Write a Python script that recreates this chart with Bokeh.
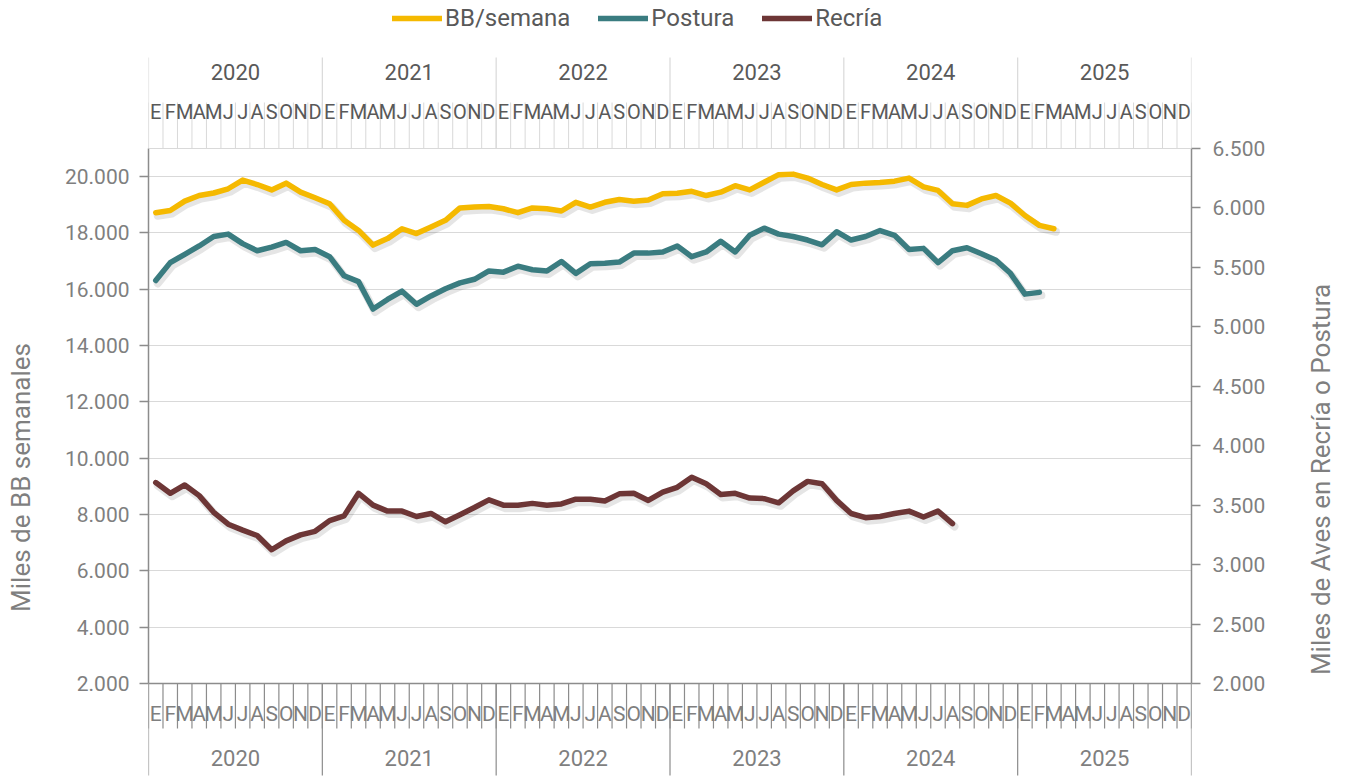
import numpy as np
from math import pi
from bokeh.plotting import figure
from bokeh.layouts import row
from bokeh.models import Range1d, LinearAxis, FixedTicker, Legend, LegendItem, Span
from bokeh.core.properties import value
from bokeh.embed import file_html
from bokeh.resources import INLINE

# ---------------- data ----------------
years = ["2020", "2021", "2022", "2023", "2024", "2025"]
months = ["E", "F", "M", "A", "M", "J", "J", "A", "S", "O", "N", "D"]

bb_semana = [18720, 18800, 19130, 19330, 19420, 19570, 19880, 19720, 19530, 19770, 19450, 19250,
             19040, 18450, 18090, 17570, 17800, 18150, 17980, 18210, 18450, 18890, 18920, 18940,
             18860, 18720, 18890, 18860, 18780, 19090, 18920, 19090, 19190, 19130, 19170, 19390,
             19410, 19480, 19330, 19450, 19680, 19530, 19800, 20070, 20090, 19950, 19720, 19530,
             19720, 19770, 19790, 19840, 19950, 19640, 19510, 19040, 18980, 19210, 19330, 19060,
             18620, 18270, 18150]

postura = [5390, 5540, 5610, 5680, 5760, 5780, 5700, 5640, 5670, 5710, 5640, 5650,
           5590, 5430, 5380, 5150, 5230, 5300, 5190, 5260, 5320, 5370, 5400, 5470,
           5460, 5510, 5480, 5470, 5550, 5450, 5530, 5535, 5545, 5620, 5620, 5630,
           5680, 5590, 5630, 5720, 5630, 5770, 5830, 5780, 5760, 5730, 5690, 5800,
           5730, 5760, 5810, 5770, 5650, 5660, 5540, 5640, 5665, 5615, 5560, 5450,
           5275, 5290]

recria = [3690, 3600, 3670, 3580, 3440, 3340, 3290, 3245, 3125, 3200, 3250, 3280,
          3370, 3410, 3600, 3500, 3450, 3450, 3405, 3430, 3360, 3420, 3480, 3545,
          3500, 3500, 3515, 3500, 3510, 3550, 3550, 3535, 3595, 3600, 3540, 3610,
          3650, 3735, 3680, 3590, 3600, 3560, 3555, 3520, 3620, 3700, 3680, 3540,
          3430, 3395, 3405, 3430, 3450, 3400, 3450, 3345]

left_ticks = [2000, 4000, 6000, 8000, 10000, 12000, 14000, 16000, 18000, 20000]
left_tick_labels = ["2.000", "4.000", "6.000", "8.000", "10.000", "12.000", "14.000",
                    "16.000", "18.000", "20.000"]
right_ticks = [2000, 2500, 3000, 3500, 4000, 4500, 5000, 5500, 6000, 6500]
right_tick_labels = ["2.000", "2.500", "3.000", "3.500", "4.000", "4.500", "5.000",
                     "5.500", "6.000", "6.500"]

series_names = ["BB/semana", "Postura", "Recría"]
left_title = "Miles de BB semanales"
right_title = "Miles de Aves en Recría o Postura"

# ---------------- layout constants (screen px) ----------------
H = 778
WL, WR = 40, 40             # side strips holding the axis titles
WM = 1346 - WL - WR         # main figure width
FL, FR = 148, 1191          # frame left / right (screen)
FT, FB = 0, H               # frame top / bottom (screen)
PT, PB = 148, 683           # plotting area top / bottom
L_MIN, L_MAX = 2000, 21000
R_MIN, R_MAX = 2000, 6500

def ext_range(lo, hi):
    per_px = (hi - lo) / (PB - PT)
    return Range1d(start=lo - (FB - PB) * per_px, end=hi + (PT - FT) * per_px)

n_months = len(years) * len(months)

def dx(px):
    return (px - FL) / (FR - FL) * n_months

YELLOW = "#F5B900"
TEAL = "#3A7C80"
MAROON = "#6D3636"
AX = "#8c8c8c"
LIGHT = "#d9d9d9"
TXT = "#7f7f7f"
DARKTXT = "#595959"
FONT = "Roboto"

p = figure(width=WM, height=H, output_backend="svg", toolbar_location=None,
           x_range=Range1d(0, n_months), y_range=ext_range(L_MIN, L_MAX),
           x_axis_location=None, y_axis_location="left",
           min_border_left=FL - WL, min_border_right=WL + WM - FR,
           min_border_top=0, min_border_bottom=0,
           outline_line_color=None, background_fill_color="white",
           border_fill_color="white")
p.extra_y_ranges = {"right": ext_range(R_MIN, R_MAX), "scr": Range1d(start=FB, end=FT)}

p.xgrid.visible = False
p.ygrid.ticker = FixedTicker(ticks=left_ticks)
p.ygrid.grid_line_color = LIGHT
p.ygrid.grid_line_width = 1

# left axis
ax = p.yaxis[0]
ax.ticker = FixedTicker(ticks=left_ticks)
ax.bounds = (L_MIN, L_MAX)
ax.major_label_overrides = dict(zip(left_ticks, left_tick_labels))
ax.axis_line_color = AX
ax.axis_line_width = 1.5
ax.major_tick_line_color = AX
ax.major_tick_line_width = 1.5
ax.major_tick_out = 9
ax.major_tick_in = 0
ax.minor_tick_line_color = None
ax.major_label_standoff = 10
ax.major_label_text_font = FONT
ax.major_label_text_font_size = "21px"
ax.major_label_text_color = TXT

# right axis
axr = LinearAxis(y_range_name="right", ticker=FixedTicker(ticks=right_ticks),
                 bounds=(R_MIN, R_MAX))
axr.major_label_overrides = dict(zip(right_ticks, right_tick_labels))
axr.axis_line_color = AX
axr.axis_line_width = 1.5
axr.major_tick_line_color = AX
axr.major_tick_line_width = 1.5
axr.major_tick_out = 9
axr.major_tick_in = 0
axr.minor_tick_line_color = None
axr.major_label_standoff = 12
axr.major_label_text_font = FONT
axr.major_label_text_font_size = "21px"
axr.major_label_text_color = TXT
p.add_layout(axr, "right")

# top / bottom category strips
mb = np.arange(0, n_months + 1)
yb = np.arange(0, n_months + 1, len(months))
mc = np.arange(n_months) + 0.5
yc = np.arange(len(years)) * len(months) + len(months) / 2
month_labels = months * len(years)

p.segment(x0=mb, y0=PT, x1=mb, y1=102, y_range_name="scr", line_color=LIGHT, line_width=1)
p.segment(x0=yb, y0=PT, x1=yb, y1=57, y_range_name="scr", line_color=LIGHT, line_width=1.2)
p.text(x=mc, y=111, text=month_labels, y_range_name="scr", text_align="center",
       text_baseline="alphabetic", text_font=value(FONT), text_font_size="20px",
       text_color=DARKTXT)
p.text(x=yc, y=71, text=years, y_range_name="scr", text_align="center",
       text_baseline="alphabetic", text_font=value(FONT), text_font_size="22px",
       text_color=DARKTXT)

p.segment(x0=mb, y0=PB, x1=mb, y1=728, y_range_name="scr", line_color=AX, line_width=1.2)
p.segment(x0=yb, y0=PB, x1=yb, y1=775, y_range_name="scr", line_color=AX, line_width=1.2)
p.text(x=mc, y=713, text=month_labels, y_range_name="scr", text_align="center",
       text_baseline="alphabetic", text_font=value(FONT), text_font_size="21px",
       text_color=TXT)
p.text(x=yc, y=757, text=years, y_range_name="scr", text_align="center",
       text_baseline="alphabetic", text_font=value(FONT), text_font_size="22px",
       text_color=TXT)

p.add_layout(Span(location=L_MAX, dimension="width", line_color=LIGHT, line_width=1))
p.add_layout(Span(location=L_MIN, dimension="width", line_color=AX, line_width=1.5))

# ---------------- series ----------------
lp = (L_MAX - L_MIN) / (PB - PT)
rp = (R_MAX - R_MIN) / (PB - PT)
sh_dx = dx(FL + 2)

x_bb = np.arange(len(bb_semana)) + 0.5
x_po = np.arange(len(postura)) + 0.5
x_re = np.arange(len(recria)) + 0.5

for xs, ys, rng, per in [(x_bb, bb_semana, "default", lp),
                         (x_po, postura, "right", rp),
                         (x_re, recria, "right", rp)]:
    p.line(xs + sh_dx, np.array(ys) - 3 * per, y_range_name=rng, line_color="black",
           line_alpha=0.10, line_width=8, line_join="round", line_cap="round")

r_bb = p.line(x_bb, bb_semana, line_color=YELLOW, line_width=5.5,
              line_join="round", line_cap="round")
r_po = p.line(x_po, postura, y_range_name="right", line_color=TEAL, line_width=5.5,
              line_join="round", line_cap="round")
r_re = p.line(x_re, recria, y_range_name="right", line_color=MAROON, line_width=5.5,
              line_join="round", line_cap="round")

legend = Legend(items=[LegendItem(label=series_names[0], renderers=[r_bb]),
                       LegendItem(label=series_names[1], renderers=[r_po]),
                       LegendItem(label=series_names[2], renderers=[r_re])],
                orientation="horizontal", location=(392 - FL, H - 32),
                glyph_width=50, glyph_height=20, label_standoff=3, spacing=28,
                padding=0, margin=0, border_line_color=None, background_fill_alpha=0,
                label_text_font=FONT, label_text_font_size="24px",
                label_text_color=DARKTXT, label_text_baseline="middle")
p.add_layout(legend)

# ---------------- side strips with the axis titles ----------------
def title_strip(width, cx, cy, text):
    f = figure(width=width, height=H, output_backend="svg", toolbar_location=None,
               x_range=Range1d(0, width), y_range=Range1d(start=H, end=0),
               x_axis_location=None, y_axis_location=None, min_border=0,
               outline_line_color=None, background_fill_color="white",
               border_fill_color="white")
    f.grid.visible = False
    f.text(x=[cx], y=[cy], text=[text], angle=pi / 2, text_align="center",
           text_baseline="middle", text_font=value(FONT), text_font_size="26px",
           text_color=TXT)
    return f

left_fig = title_strip(WL, 20, 477, left_title)
right_fig = title_strip(WR, 1320 - (WL + WM), 479, right_title)

layout = row(left_fig, p, right_fig, spacing=0)
open("out.html", "w").write(file_html(layout, INLINE))
